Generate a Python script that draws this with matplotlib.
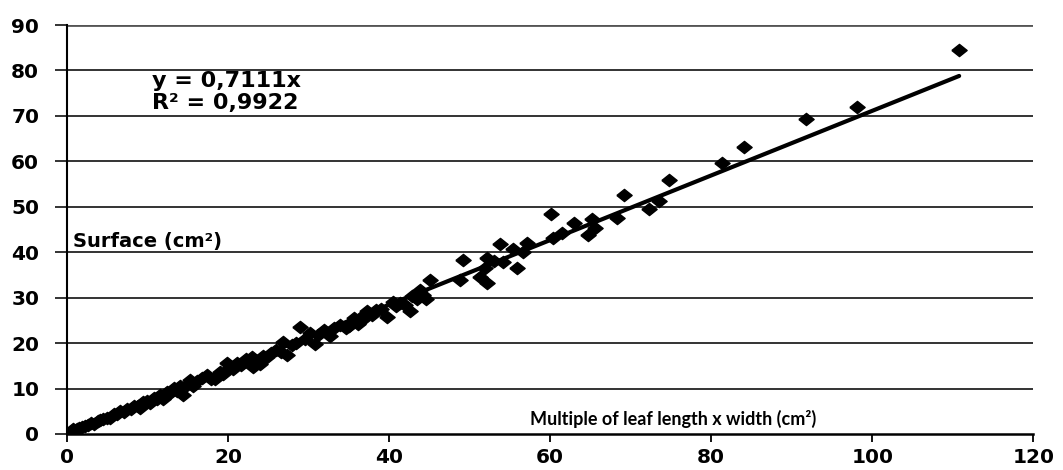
import numpy as np
import matplotlib
matplotlib.use("Agg")
import matplotlib.pyplot as plt

# leaf area data (length x width product vs measured surface)
x_vals = [0.8, 1.2, 1.5, 1.9, 2.3, 2.6, 3.0, 3.4, 3.8, 4.1, 4.5, 5.0, 5.3, 5.8, 6.2,
          6.6, 7.1, 7.5, 7.9, 8.3, 8.8, 9.1, 9.5, 9.9, 10.3, 10.8, 11.2, 11.6, 11.9,
          12.4, 12.8, 13.3, 13.7, 14.0, 14.4, 14.9, 15.3, 15.7, 16.2, 16.8, 17.4,
          17.9, 18.4, 19.0, 19.4, 19.9, 20.2, 20.6, 21.1, 21.6, 22.2, 22.7, 23.0,
          23.1, 23.6, 24.0, 24.3, 24.9, 25.4, 26.0, 26.6, 26.8, 27.3, 27.9, 28.4,
          28.9, 29.6, 30.2, 30.8, 31.2, 31.9, 32.7, 33.2, 33.9, 34.6, 35.0, 35.6,
          36.1, 36.6, 37.0, 37.3, 37.9, 38.4, 39.0, 39.8, 40.5, 40.9, 41.4, 42.0,
          42.6, 42.9, 43.5, 43.9, 44.2, 44.6, 45.1,
          48.8, 49.2, 51.3, 51.9, 52.2, 52.2, 53.0, 53.8, 54.2, 55.4, 55.9, 56.6,
          57.1, 60.1, 60.4, 61.5, 63.0, 64.7, 65.2, 65.6, 68.3, 69.2, 72.3, 73.5,
          74.8, 81.4, 84.1, 91.8, 98.1, 110.8]
y_vals = [1.2, 1.0, 1.3, 1.5, 1.8, 1.9, 2.4, 2.2, 2.9, 3.0, 3.4, 3.6, 3.5, 4.4, 4.3,
          5.0, 4.9, 5.6, 5.6, 6.2, 6.1, 5.8, 7.0, 7.3, 6.9, 8.0, 7.8, 8.6, 7.6,
          9.3, 9.0, 10.1, 9.4, 10.6, 8.6, 10.8, 11.8, 10.5, 11.6, 12.3, 12.9,
          12.1, 12.0, 13.6, 13.2, 15.6, 14.8, 14.3, 15.7, 15.2, 16.4, 15.8, 16.9,
          14.8, 16.0, 15.3, 17.2, 17.0, 17.8, 18.4, 18.0, 20.3, 17.4, 19.6, 20.0,
          23.5, 21.0, 22.3, 19.8, 21.8, 22.8, 21.6, 23.4, 24.0, 23.4, 23.8, 25.6,
          24.3, 25.0, 26.4, 27.0, 26.2, 27.2, 27.5, 25.8, 29.0, 28.2, 28.8, 28.4,
          27.0, 30.4, 29.6, 31.6, 30.6, 29.8, 33.8,
          33.9, 38.3, 34.6, 36.5, 38.7, 33.2, 38.0, 41.8, 37.9, 40.7, 36.5, 40.1,
          42.0, 48.4, 43.1, 44.2, 46.4, 43.8, 47.3, 45.3, 47.5, 52.6, 49.5, 51.3,
          55.9, 59.6, 63.2, 69.3, 72.0, 84.5]
slope = 0.7111
r2 = 0.9922

x_ticks = [0, 20, 40, 60, 80, 100, 120]
y_ticks = [0, 10, 20, 30, 40, 50, 60, 70, 80, 90]

fig = plt.figure(figsize=(10.63, 4.70), dpi=100)
ax = fig.add_axes([0.063, 0.0766, 0.909, 0.8702])

# horizontal gridlines
for yt in y_ticks[1:]:
    ax.axhline(yt, color="#333333" if yt < 90 else "#555555", lw=1.4 if yt < 90 else 2.0, zorder=1)

# excel-like wide diamond
diamond = [(-1, 0), (0, 0.8), (1, 0), (0, -0.8), (-1, 0)]
ax.plot(x_vals, y_vals, linestyle="none", marker=diamond, markersize=11,
        color="black", zorder=3)

# linear trend through origin
xl = np.array([0, max(x_vals)])
ax.plot(xl, slope * xl, color="black", lw=3, zorder=4, solid_capstyle="round")

ax.set_xlim(0, 120)
ax.set_ylim(0, 90)
ax.set_xticks(x_ticks)
ax.set_yticks(y_ticks)
tick_font = dict(family="DejaVu Sans", weight="bold", size=14.5)
ax.set_xticklabels([str(t) for t in x_ticks], **tick_font)
ax.set_yticklabels([str(t) for t in y_ticks], **tick_font)
ax.tick_params(axis="x", direction="out", length=6, width=1.3, pad=4)
ax.tick_params(axis="y", direction="out", length=9, width=1.4, pad=11, color="#333333")

for s in ["top", "right"]:
    ax.spines[s].set_visible(False)
ax.spines["left"].set_linewidth(1.5)
ax.spines["bottom"].set_linewidth(1.8)

ax.text(10.6, 75.3, "y = 0,7111x\nR² = 0,9922", family="DejaVu Sans",
        weight="bold", size=16, va="center", ha="left", linespacing=1.1, zorder=5)
ax.text(0.75, 42.3, "Surface (cm²)", family="DejaVu Sans", weight="bold", size=14,
        va="center", ha="left", zorder=5)
ax.text(57.5, 3.3, "Multiple of leaf length x width (cm²)", family="Lato",
        weight="bold", size=13, va="center", ha="left", zorder=5)

fig.savefig("out.png", dpi=100)
